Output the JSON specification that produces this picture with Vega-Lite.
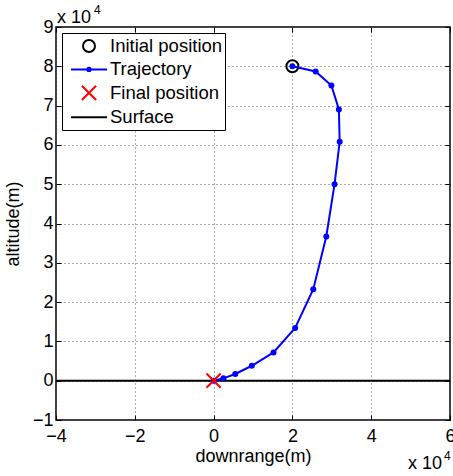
{
  "$schema": "https://vega.github.io/schema/vega-lite/v6.json",
  "width": 394,
  "height": 393,
  "autosize": {"type": "none"},
  "padding": {"left": 56, "top": 27, "right": 3, "bottom": 56},
  "background": "white",
  "config": {
    "view": {"stroke": "black", "strokeWidth": 1.5},
    "font": "Liberation Sans",
    "axis": {
      "grid": true, "gridDash": [1, 3], "gridColor": "#555555", "gridWidth": 1, "gridOpacity": 1,
      "domain": false, "ticks": true, "tickColor": "black", "tickSize": -5, "tickWidth": 1,
      "labelFontSize": 18, "labelColor": "black", "labelFont": "Liberation Sans", "labelFlush": false, "labelOverlap": false,
      "titleFontSize": 18, "titleFontWeight": "normal", "titleColor": "black", "titleFont": "Liberation Sans"
    },
    "legend": {
      "strokeColor": "black", "fillColor": "white", "padding": 2.5,
      "labelFontSize": 18.5, "labelFont": "Liberation Sans", "labelColor": "black",
      "symbolStrokeWidth": 2, "symbolSize": 361, "rowPadding": 2.4,
      "symbolOffset": 14, "labelOffset": 10.5, "labelLimit": 300
    }
  },
  "resolve": {"axis": {"x": "independent", "y": "independent"}},
  "datasets": {
    "traj": [
      {"step": 1, "x": 20000, "y": 80000},
      {"step": 2, "x": 25900, "y": 78700},
      {"step": 3, "x": 29900, "y": 75100},
      {"step": 4, "x": 31800, "y": 69000},
      {"step": 5, "x": 32000, "y": 60800},
      {"step": 6, "x": 30700, "y": 50000},
      {"step": 7, "x": 28600, "y": 36700},
      {"step": 8, "x": 25300, "y": 23300},
      {"step": 9, "x": 20700, "y": 13400},
      {"step": 10, "x": 15200, "y": 7200},
      {"step": 11, "x": 9700, "y": 3800},
      {"step": 12, "x": 5500, "y": 1700},
      {"step": 13, "x": 2500, "y": 600},
      {"step": 14, "x": 0, "y": 0}
    ],
    "init": [{"x": 20000, "y": 80000, "series": "Initial position"}],
    "final": [{"x": 0, "y": 0, "series": "Final position"}],
    "exponent": [
      {"ax": "x", "base": "x 10", "power": "4"}
    ]
  },
  "layer": [
    {
      "data": {"name": "init"},
      "mark": {"type": "point", "filled": false, "strokeWidth": 2, "size": 361, "opacity": 1},
      "encoding": {
        "x": {"field": "x", "type": "quantitative", "scale": {"domain": [-40000, 60000], "nice": false, "zero": false},
              "axis": {"values": [-40000, -20000, 0, 20000, 40000, 60000], "tickCount": 20, "labelExpr": "replace(format(datum.value/10000,'d'),'-','−')", "labelOverlap": false, "labelPadding": 26, "labelBaseline": "alphabetic", "title": "downrange(m)", "titleX": 197, "titleY": 41, "titleAlign": "center", "titleBaseline": "alphabetic"}},
        "y": {"field": "y", "type": "quantitative", "scale": {"domain": [-10000, 90000], "nice": false, "zero": false},
              "axis": {"values": [-10000, 0, 10000, 20000, 30000, 40000, 50000, 60000, 70000, 80000, 90000], "tickCount": 20, "labelExpr": "replace(format(datum.value/10000,'d'),'-','−')", "labelOverlap": false, "labelPadding": 8, "title": "altitude(m)", "titleX": -43, "titleY": 196.5, "titleAngle": 270, "titleAlign": "center", "titleBaseline": "middle"}},
        "color": {"field": "series", "type": "nominal",
                  "scale": {"domain": ["Initial position", "Trajectory", "Final position", "Surface"], "range": ["black", "#0000ff", "#ff0000", "black"]},
                  "legend": {"title": null, "orient": "none", "legendX": 6, "legendY": 6}},
        "shape": {"field": "series", "type": "nominal",
                  "scale": {"domain": ["Initial position", "Trajectory", "Final position", "Surface"], "range": ["M-0.63,0A0.63,0.63,0,1,0,0.63,0A0.63,0.63,0,1,0,-0.63,0", "M-1.9,0L1.9,0M-0.18,0A0.18,0.18,0,1,0,0.18,0A0.18,0.18,0,1,0,-0.18,0", "M-0.75,-0.75L0.75,0.75M-0.75,0.75L0.75,-0.75", "M-1.9,0L1.9,0"]},
                  "legend": {"title": null, "orient": "none", "legendX": 6, "legendY": 6}}
      }
    },
    {
      "data": {"name": "init"},
      "mark": {"type": "point", "opacity": 0, "size": 1},
      "encoding": {
        "x": {"field": "x", "type": "quantitative",
              "axis": {"orient": "top", "values": [-40000, -20000, 0, 20000, 40000, 60000], "tickCount": 20, "labels": false, "grid": false, "title": null}},
        "y": {"field": "y", "type": "quantitative",
              "axis": {"orient": "right", "values": [-10000, 0, 10000, 20000, 30000, 40000, 50000, 60000, 70000, 80000, 90000], "tickCount": 20, "labels": false, "grid": false, "title": null}}
      }
    },
    {
      "data": {"name": "init"},
      "mark": {"type": "rule", "color": "black", "strokeWidth": 2},
      "encoding": {
        "y": {"datum": 0, "type": "quantitative", "axis": null}
      }
    },
    {
      "data": {"name": "traj"},
      "mark": {"type": "line", "color": "#0000ff", "strokeWidth": 2, "point": {"filled": true, "color": "#0000ff", "size": 36, "opacity": 1}},
      "encoding": {
        "x": {"field": "x", "type": "quantitative", "axis": null},
        "y": {"field": "y", "type": "quantitative", "axis": null},
        "order": {"field": "step", "type": "quantitative"}
      }
    },
    {
      "data": {"name": "final"},
      "mark": {"type": "point", "filled": false, "strokeWidth": 2, "size": 361, "opacity": 1},
      "encoding": {
        "x": {"field": "x", "type": "quantitative", "axis": null},
        "y": {"field": "y", "type": "quantitative", "axis": null},
        "color": {"field": "series", "type": "nominal", "legend": {"title": null, "orient": "none", "legendX": 6, "legendY": 6}},
        "shape": {"field": "series", "type": "nominal", "legend": {"title": null, "orient": "none", "legendX": 6, "legendY": 6}}
      }
    },
    {
      "data": {"name": "exponent"},
      "mark": {"type": "text", "align": "right", "baseline": "alphabetic", "dx": -8, "dy": 49, "fontSize": 18, "font": "Liberation Sans", "color": "black"},
      "encoding": {
        "text": {"field": "base"},
        "x": {"datum": 60000, "type": "quantitative", "axis": null},
        "y": {"datum": -10000, "type": "quantitative", "axis": null}
      }
    },
    {
      "data": {"name": "exponent"},
      "mark": {"type": "text", "align": "left", "baseline": "alphabetic", "dx": -6, "dy": 40, "fontSize": 12, "font": "Liberation Sans", "color": "black"},
      "encoding": {
        "text": {"field": "power"},
        "x": {"datum": 60000, "type": "quantitative", "axis": null},
        "y": {"datum": -10000, "type": "quantitative", "axis": null}
      }
    },
    {
      "data": {"name": "exponent"},
      "mark": {"type": "text", "align": "left", "baseline": "alphabetic", "dx": 1, "dy": -4, "fontSize": 18, "font": "Liberation Sans", "color": "black"},
      "encoding": {
        "text": {"field": "base"},
        "x": {"datum": -40000, "type": "quantitative", "axis": null},
        "y": {"datum": 90000, "type": "quantitative", "axis": null}
      }
    },
    {
      "data": {"name": "exponent"},
      "mark": {"type": "text", "align": "left", "baseline": "alphabetic", "dx": 38, "dy": -13, "fontSize": 12, "font": "Liberation Sans", "color": "black"},
      "encoding": {
        "text": {"field": "power"},
        "x": {"datum": -40000, "type": "quantitative", "axis": null},
        "y": {"datum": 90000, "type": "quantitative", "axis": null}
      }
    }
  ]
}
